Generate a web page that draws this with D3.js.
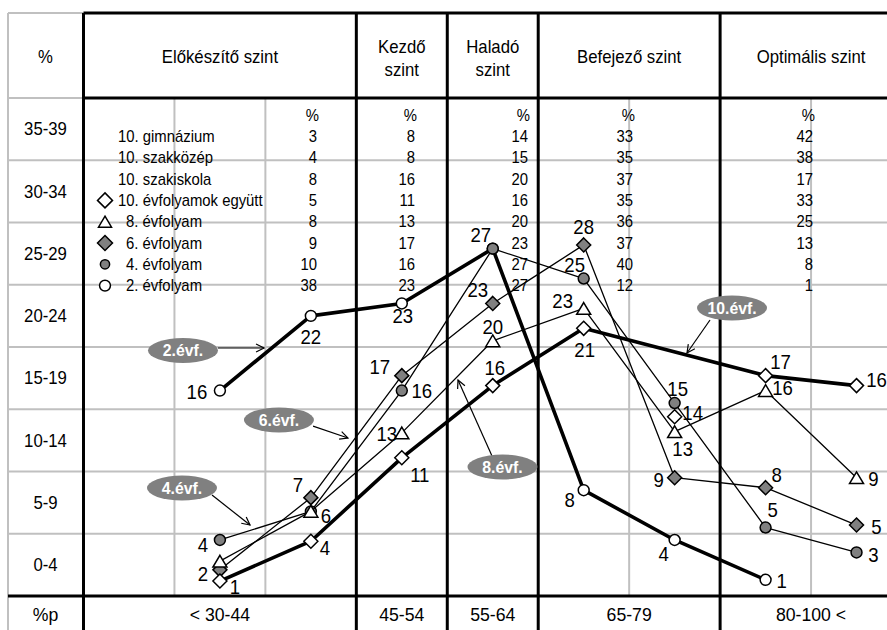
<!DOCTYPE html>
<html><head><meta charset="utf-8">
<script src="https://cdn.jsdelivr.net/npm/d3@7/dist/d3.min.js"></script>
<style>body{margin:0;background:#fff} text{font-family:"Liberation Sans", Arial, Helvetica, sans-serif}</style>
</head><body>
<svg id="c" width="887" height="630"></svg>
<script>
// ---------- data ----------
const levelNames = ["Előkészítő szint", "Kezdő\nszint", "Haladó\nszint", "Befejező szint", "Optimális szint"];
const scoreBands = ["< 30-44", "45-54", "55-64", "65-79", "80-100 <"];
const pctBands = ["0-4", "5-9", "10-14", "15-19", "20-24", "25-29", "30-34", "35-39"];
const slots = [1.5, 2.5, 3.5, 4.5, 5.5, 6.5, 7.5, 8.5];

const seriesNames = ["2.évf.", "4.évf.", "6.évf.", "8.évf.", "10.évf."];
const v2  = [16, 22, 23, 27.4, 8, 4, 0.8];
const v4  = [4, 6.3, 16, 27.4, 25, 15, 5, 3];
const v6  = [1.6, 7.4, 17.2, 23, 27.7, 9, 8.2, 5.2];
const v8  = [2.3, 6.3, 12.6, 20, 22.6, 12.7, 16, 9];
const v10 = [0.7, 3.9, 10.6, 16.4, 21, 13.9, 17.2, 16.4];

const tableNames = ["10. gimnázium", "10. szakközép", "10. szakiskola", "10. évfolyamok együtt",
                    "8. évfolyam", "6. évfolyam", "4. évfolyam", "2. évfolyam"];
const tElo = [3, 4, 8, 5, 8, 9, 10, 38];
const tKez = [8, 8, 16, 11, 13, 17, 16, 23];
const tHal = [14, 15, 20, 16, 20, 23, 27, 27];
const tBef = [33, 35, 37, 35, 36, 37, 40, 12];
const tOpt = [42, 38, 17, 33, 25, 13, 8, 1];

// ---------- layout / style ----------
const W = 887, H = 630, TOP = 13, HEAD = 98, BOT = 596, LEFT = 8;
const SX = 0.93;
const levelSpans = [[0,3],[3,4],[4,5],[5,7],[7,9]];
const x = d3.scaleLinear().domain([0, 9]).range([83.5, 902]);
const y = d3.scaleLinear().domain([-0.5, 39.5]).range([BOT, HEAD]);
const GRAY = "#c0c0c0", MID = "#808080";

const svg = d3.select("#c");
function txt(g, px, py, s, size, o = {}) {
  return g.append("text")
    .attr("transform", `translate(${px},${py}) scale(${SX},1)`)
    .attr("text-anchor", o.anchor || "middle")
    .attr("dy", "0.35em")
    .attr("font-size", size)
    .attr("font-weight", o.bold ? "bold" : null)
    .attr("fill", o.fill || "#000")
    .text(s);
}

// arrow marker
svg.append("defs").append("marker")
  .attr("id", "arr").attr("viewBox", "-10 -6 12 12").attr("refX", 0).attr("refY", 0)
  .attr("markerWidth", 12).attr("markerHeight", 12).attr("markerUnits", "userSpaceOnUse")
  .attr("orient", "auto")
  .append("path").attr("d", "M-8,-4L0,0L-8,4").attr("fill", "none").attr("stroke", "#000").attr("stroke-width", 1.2);

// ---------- grid ----------
const grid = svg.append("g");
const bandEdges = d3.range(1, 8).map(k => 5 * k - 0.5);
grid.selectAll(".hg").data(bandEdges).join("line")
  .attr("x1", LEFT).attr("x2", W).attr("y1", d => y(d)).attr("y2", d => y(d))
  .attr("stroke", GRAY).attr("stroke-width", 2);
grid.selectAll(".vg").data([1, 2, 6, 8]).join("line")
  .attr("x1", d => x(d)).attr("x2", d => x(d)).attr("y1", HEAD).attr("y2", BOT)
  .attr("stroke", GRAY).attr("stroke-width", 2);
grid.append("line").attr("x1", LEFT).attr("x2", x(0)).attr("y1", TOP).attr("y2", TOP).attr("stroke", GRAY).attr("stroke-width", 2);
grid.append("line").attr("x1", LEFT).attr("x2", x(0)).attr("y1", HEAD).attr("y2", HEAD).attr("stroke", GRAY).attr("stroke-width", 2);
grid.append("line").attr("x1", LEFT).attr("x2", LEFT).attr("y1", TOP).attr("y2", H).attr("stroke", GRAY).attr("stroke-width", 2);
// black frame
const blk = svg.append("g").attr("stroke", "#000").attr("stroke-width", 3);
blk.append("line").attr("x1", x(0)).attr("x2", W).attr("y1", TOP).attr("y2", TOP);
blk.append("line").attr("x1", x(0)).attr("x2", W).attr("y1", HEAD).attr("y2", HEAD);
blk.append("line").attr("x1", LEFT).attr("x2", W).attr("y1", BOT).attr("y2", BOT);
blk.selectAll(".vb").data([0, 3, 4, 5, 7]).join("line")
  .attr("x1", d => x(d)).attr("x2", d => x(d)).attr("y1", TOP).attr("y2", H);

// ---------- header & axes text ----------
const txtG = svg.append("g");
txt(txtG, 45.5, 57, "%", 18);
levelNames.forEach((n, i) => {
  const cx = x((levelSpans[i][0] + levelSpans[i][1]) / 2);
  const parts = n.split("\n");
  if (parts.length === 1) txt(txtG, cx, 57, n, 18);
  else { txt(txtG, cx, 47, parts[0], 18); txt(txtG, cx, 70, parts[1], 18); }
});
pctBands.forEach((b, k) => txt(txtG, 45.5, y(5 * k + 2), b, 18));
txt(txtG, 45.5, 614, "%p", 19);
scoreBands.forEach((b, i) => txt(txtG, x((levelSpans[i][0] + levelSpans[i][1]) / 2), 614, b, 19));

// ---------- table ----------
const tab = svg.append("g");
const tCols = [tElo, tKez, tHal, tBef, tOpt];
const tColX = [317, 415, 528, 633, 813];
const rowY = i => 136.5 + 21.3 * i;
tColX.forEach((cx, c) => {
  txt(tab, cx + 2, 115, "%", 16, {anchor: "end"});
  tCols[c].forEach((v, i) => txt(tab, cx, rowY(i), v, 16, {anchor: "end"}));
});
tableNames.forEach((n, i) => txt(tab, i < 4 ? 118 : 126, rowY(i), n, 16, {anchor: "start"}));

// ---------- marker shapes ----------
function drawMarker(g, shape, fill, px, py, s) {
  if (shape === "circle") {
    g.append("circle").attr("cx", px).attr("cy", py).attr("r", s * 0.42)
      .attr("fill", fill).attr("stroke", "#000").attr("stroke-width", 1.5);
  } else if (shape === "diamond") {
    const h = s / 2;
    g.append("path").attr("d", `M${px},${py - h}L${px + h},${py}L${px},${py + h}L${px - h},${py}Z`)
      .attr("fill", fill).attr("stroke", "#000").attr("stroke-width", 1.5);
  } else {
    const w = s / 2, hh = s * 0.42;
    g.append("path").attr("d", `M${px},${py - hh}L${px + w},${py + hh}L${px - w},${py + hh}Z`)
      .attr("fill", fill).attr("stroke", "#000").attr("stroke-width", 1.5).attr("stroke-linejoin", "miter");
  }
}
// legend symbols in table
const legendShapes = [null, null, null, ["diamond", "#fff", 15], ["triangle", "#fff", 13], ["diamond", MID, 15], ["circle", MID, 11], ["circle", "#fff", 13]];
legendShapes.forEach((s, i) => { if (s) drawMarker(tab, s[0], s[1], 105, rowY(i), s[2]); });

// ---------- series ----------
const seriesData = [v2, v4, v6, v8, v10];
const seriesStyle = [
  {shape: "circle", fill: "#fff", w: 3.6, size: 13, paths: [[0,1,2,3,4,5,6]]},
  {shape: "circle", fill: MID, w: 1.3, size: 13, paths: [[0,1,2,3,4,5,6,7]]},
  {shape: "diamond", fill: MID, w: 1.3, size: 14, paths: [[0,1,2,3,4,5,6,7]]},
  {shape: "triangle", fill: "#fff", w: 1.3, size: 14, paths: [[0,1,2,3,4,5,6,7]]},
  {shape: "diamond", fill: "#fff", w: 3.6, size: 14, paths: [[0,1,2,3,4,6,7]]}
];
const labelOffsets = [
  [[-23,1],[0,21],[1,13],[-12,-14],[-14,10],[-11,14],[16,1]],
  [[-17,5],null,[20,0],null,[-9,-14],[3,-14],[7,-18],[17,3]],
  [[-17,4],[-13,-13],[-22,-9],[-15,-13],[0,-18],[-16,2],[11,-13],[20,2]],
  [null,[15,5],[-15,1],[0,-14],[-21,-7],[8,17],[17,-3],[17,1]],
  [[15,6],[14,7],[18,17],[2,-18],[1,22],[18,-4],[15,-14],[20,-6]]
];
const fmt = d3.format(".0f");
const plot = svg.append("g");
seriesData.forEach((vals, si) => {
  const st = seriesStyle[si];
  const g = plot.append("g");
  st.paths.forEach(p => {
    g.append("path")
      .attr("d", d3.line().x(i => x(slots[i])).y(i => y(vals[i]))(p))
      .attr("fill", "none").attr("stroke", "#000").attr("stroke-width", st.w).attr("stroke-linejoin", "round");
  });
  vals.forEach((v, i) => drawMarker(g, st.shape, st.fill, x(slots[i]), y(v), st.size));
});
const lab = svg.append("g");
seriesData.forEach((vals, si) => {
  vals.forEach((v, i) => {
    const o = labelOffsets[si][i];
    if (o) txt(lab, x(slots[i]) + o[0], y(v) + o[1], fmt(v), 20);
  });
});

// ---------- callouts ----------
const noteLayout = [
  {c: [1.094, 19.22], f: [1.479, 19.42], t: [1.985, 19.42]},
  {c: [1.083, 8.17],  f: [1.413, 7.61],  t: [1.831, 5.20]},
  {c: [2.149, 13.64], f: [2.524, 13.15], t: [2.908, 12.19]},
  {c: [4.607, 9.86],  f: [4.492, 10.74], t: [4.118, 16.85]},
  {c: [7.131, 22.63], f: [6.889, 21.67], t: [6.636, 19.02]}
];
const notes = svg.append("g");
seriesNames.forEach((n, i) => {
  const L = noteLayout[i];
  notes.append("line")
    .attr("x1", x(L.f[0])).attr("y1", y(L.f[1])).attr("x2", x(L.t[0])).attr("y2", y(L.t[1]))
    .attr("stroke", "#000").attr("stroke-width", 1.2).attr("marker-end", "url(#arr)");
  notes.append("ellipse").attr("cx", x(L.c[0])).attr("cy", y(L.c[1])).attr("rx", 35).attr("ry", 12.5).attr("fill", MID);
  txt(notes, x(L.c[0]), y(L.c[1]), n, 17, {bold: true, fill: "#fff"});
});
</script>
</body></html>
